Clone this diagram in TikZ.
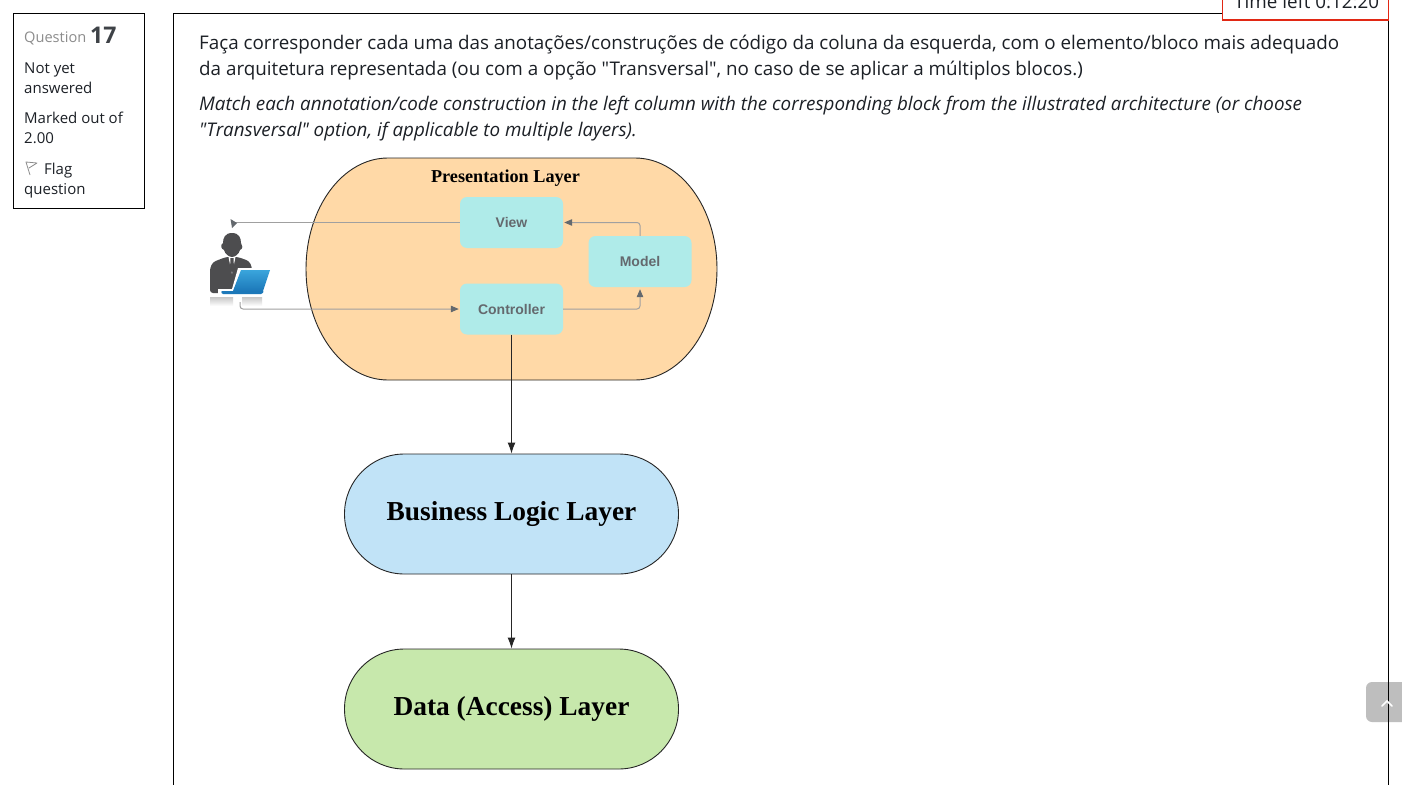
\documentclass[tikz,border=0pt]{standalone}
\usepackage{fontspec}
\setmainfont[Ligatures=TeXOff]{Open Sans}
\newfontfamily\layerfont{Liberation Serif}
\newfontfamily\blockfont{Liberation Sans}
\usetikzlibrary{arrows.meta,shadings}
\definecolor{ink}{RGB}{28, 32, 38}
\definecolor{soft}{RGB}{140, 140, 140}
\definecolor{peach}{RGB}{255, 217, 167}
\definecolor{aqua}{RGB}{175, 235, 233}
\definecolor{sky}{RGB}{193, 227, 247}
\definecolor{leaf}{RGB}{199, 232, 172}
\definecolor{wire}{RGB}{160, 160, 160}
\definecolor{tipgray}{RGB}{100, 105, 110}
\definecolor{suit}{RGB}{77, 77, 79}
\definecolor{timered}{RGB}{225, 40, 20}
\definecolor{upgray}{RGB}{190, 190, 190}
\definecolor{lidtop}{RGB}{58, 165, 220}
\definecolor{lidlow}{RGB}{28, 120, 185}
\tikzset{
  line/.style={anchor=base west, inner sep=0pt, font=\fontsize{18.8}{22}\selectfont, text=ink},
  side/.style={anchor=base west, inner sep=0pt, font=\fontsize{15}{18}\selectfont, text=ink},
  block/.style={rectangle, rounded corners=7pt, fill=aqua, minimum width=103pt, minimum height=51pt, inner sep=0pt, text=tipgray, font=\blockfont\bfseries\fontsize{14}{16}\selectfont},
  layer/.style={rectangle, rounded corners=59.9pt, draw=black!85, line width=0.9pt, minimum width=334pt, minimum height=120pt, inner sep=0pt, text=black, font=\layerfont\bfseries\fontsize{27.4}{30}\selectfont},
  wirearrow/.style={draw=wire, line width=1pt, rounded corners=3pt},
  tip/.style={-{Triangle[length=8pt,width=6.5pt,color=tipgray]}},
  flow/.style={draw=black!85, line width=1pt, -{Latex[length=11pt,width=8pt]}}
}
\begin{document}
\begin{tikzpicture}
\useasboundingbox (0pt, 0pt) rectangle (1402pt, -784pt);
\clip (0pt, 0pt) rectangle (1402pt, -784pt);
\fill [white] (0pt, 0pt) rectangle (1402pt, -784pt);
% frames
\draw [line width=1pt, black] (13.5pt, -13.5pt) rectangle (144.5pt, -208.5pt);
\fill [upgray] (1366pt, -682pt) [rounded corners=6pt] rectangle (1412pt, -722pt);
\draw [line width=1pt, black] (173.5pt, -800pt) -- (173.5pt, -13.5pt) -- (1388.5pt, -13.5pt) -- (1388.5pt, -800pt);
\draw [white, line width=1.6pt, line cap=round] (1382pt, -706pt) -- (1387pt, -701pt) -- (1392pt, -706pt);
\fill [white] (1222.5pt, 10pt) rectangle (1388.5pt, -20pt);
\draw [color=timered, line width=1.3pt] (1222.5pt, 10pt) -- (1222.5pt, -20pt) -- (1388.5pt, -20pt) -- (1388.5pt, 10pt);
\node (timetext) [line] at (1234pt, -9pt) {Time left 0:12:20};
% side panel
\node (qword) [side, font=\fontsize{14.6}{18}\selectfont, text=soft] at (24pt, -43pt) {Question};
\node (qnum) [side, font=\fontsize{23}{26}\selectfont\bfseries, text=ink!85] at (90pt, -44pt) {17};
\node (status1) [side] at (24pt, -74pt) {Not yet};
\node (status2) [side] at (24pt, -93pt) {answered};
\node (mark1) [side] at (24pt, -123pt) {Marked out of};
\node (mark2) [side] at (24pt, -143pt) {2.00};
\node (flag1) [side] at (44pt, -174pt) {Flag};
\node (flag2) [side] at (24pt, -194pt) {question};
\draw [soft, line width=0.8pt, line join=round] (30pt, -175pt) -- (26pt, -162pt) -- (37pt, -163pt) -- (29pt, -168pt);
% question text
\node (pt1) [line] at (199pt, -49pt) {Faça corresponder cada uma das anotações/construções de código da coluna da esquerda, com o elemento/bloco mais adequado};
\node (pt2) [line] at (199pt, -75pt) {da arquitetura representada (ou com a opção "Transversal", no caso de se aplicar a múltiplos blocos.)};
\node (en1) [line, font=\fontsize{18.8}{22}\selectfont\itshape] at (199pt, -110pt) {Match each annotation/code construction in the left column with the corresponding block from the illustrated architecture (or choose};
\node (en2) [line, font=\fontsize{18.8}{22}\selectfont\itshape] at (199pt, -136pt) {"Transversal" option, if applicable to multiple layers).};
% presentation layer
\draw [fill=peach, draw=black!85, line width=0.9pt] (388pt, -158pt) -- (635pt, -158pt)
  arc [start angle=90, end angle=-90, x radius=82pt, y radius=111pt] -- (388pt, -380pt)
  arc [start angle=270, end angle=90, x radius=82pt, y radius=111pt] -- cycle;
\node (title) [inner sep=0pt, font=\layerfont\bfseries\fontsize{18.2}{20}\selectfont] at (505.5pt, -178pt) {Presentation Layer};
\node (view) [block] at (511.5pt, -222.5pt) {View};
\node (model) [block] at (640pt, -261.5pt) {Model};
\node (controller) [block] at (511.5pt, -309pt) {Controller};
\node (business) [layer, fill=sky] at (511.5pt, -514pt) {Business Logic Layer};
\node (data) [layer, fill=leaf] at (511.5pt, -709pt) {Data (Access) Layer};
% user
\shade [top color=black!22, bottom color=white] (210pt, -297pt) -- (233pt, -297pt) -- (233pt, -306pt) -- (210pt, -306pt) -- cycle;
\shade [top color=black!22, bottom color=white] (242pt, -297pt) -- (262pt, -297pt) -- (262pt, -306pt) -- (242pt, -306pt) -- cycle;
\fill [suit] (232pt, -233pt) .. controls (225pt, -233pt) and (223pt, -238pt) .. (223pt, -243pt)
  .. controls (220pt, -245pt) and (221pt, -249pt) .. (224pt, -250pt)
  .. controls (225pt, -254pt) and (229pt, -257pt) .. (232pt, -257pt)
  .. controls (235pt, -257pt) and (239pt, -254pt) .. (240pt, -250pt)
  .. controls (243pt, -249pt) and (243pt, -245pt) .. (241pt, -243pt)
  .. controls (241pt, -238pt) and (239pt, -233pt) .. (232pt, -233pt) -- cycle;
\fill [suit, rounded corners=3pt] (210pt, -293pt) -- (210pt, -268pt) -- (213pt, -262pt) -- (226pt, -257pt) -- (238pt, -257pt) -- (249pt, -261pt) -- (252pt, -267pt) -- (252pt, -293pt) -- cycle;
\fill [white] (228.5pt, -257pt) -- (235.5pt, -257pt) -- (232pt, -274pt) -- cycle;
\fill [suit] (230.5pt, -258pt) -- (233.5pt, -258pt) -- (234pt, -269pt) -- (232pt, -273pt) -- (230pt, -269pt) -- cycle;
\fill [white] (238pt, -268pt) -- (272pt, -268pt) -- (265pt, -296pt) -- (218pt, -296pt) -- (218pt, -289pt) -- (232pt, -289pt) -- cycle;
\shade [top color=lidtop, bottom color=lidlow] (241pt, -270pt) -- (270pt, -270pt) -- (263pt, -291pt) -- (233pt, -291pt) -- cycle;
\fill [lidlow, rounded corners=1pt] (221pt, -291pt) -- (264pt, -291pt) -- (262pt, -294pt) -- (222pt, -294pt) -- cycle;
\coordinate (userout) at (240pt, -302pt);
\coordinate (userin) at (233pt, -222.5pt);
% connectors
\draw [wirearrow] (view.west) -- (userin);
\fill [tipgray] (230.5pt, -219pt) -- (237pt, -223pt) -- (232pt, -228pt) -- cycle;
\draw [wirearrow, tip] (userout) |- ([xshift=-1pt]controller.west);
\draw [wirearrow, tip] (controller.east) -| ([yshift=-2pt]model.south);
\draw [wirearrow, tip] (model.north) |- ([xshift=1pt]view.east);
\draw [flow] (controller.south) -- (business.north);
\draw [flow] (business.south) -- (data.north);
\end{tikzpicture}
\end{document}
